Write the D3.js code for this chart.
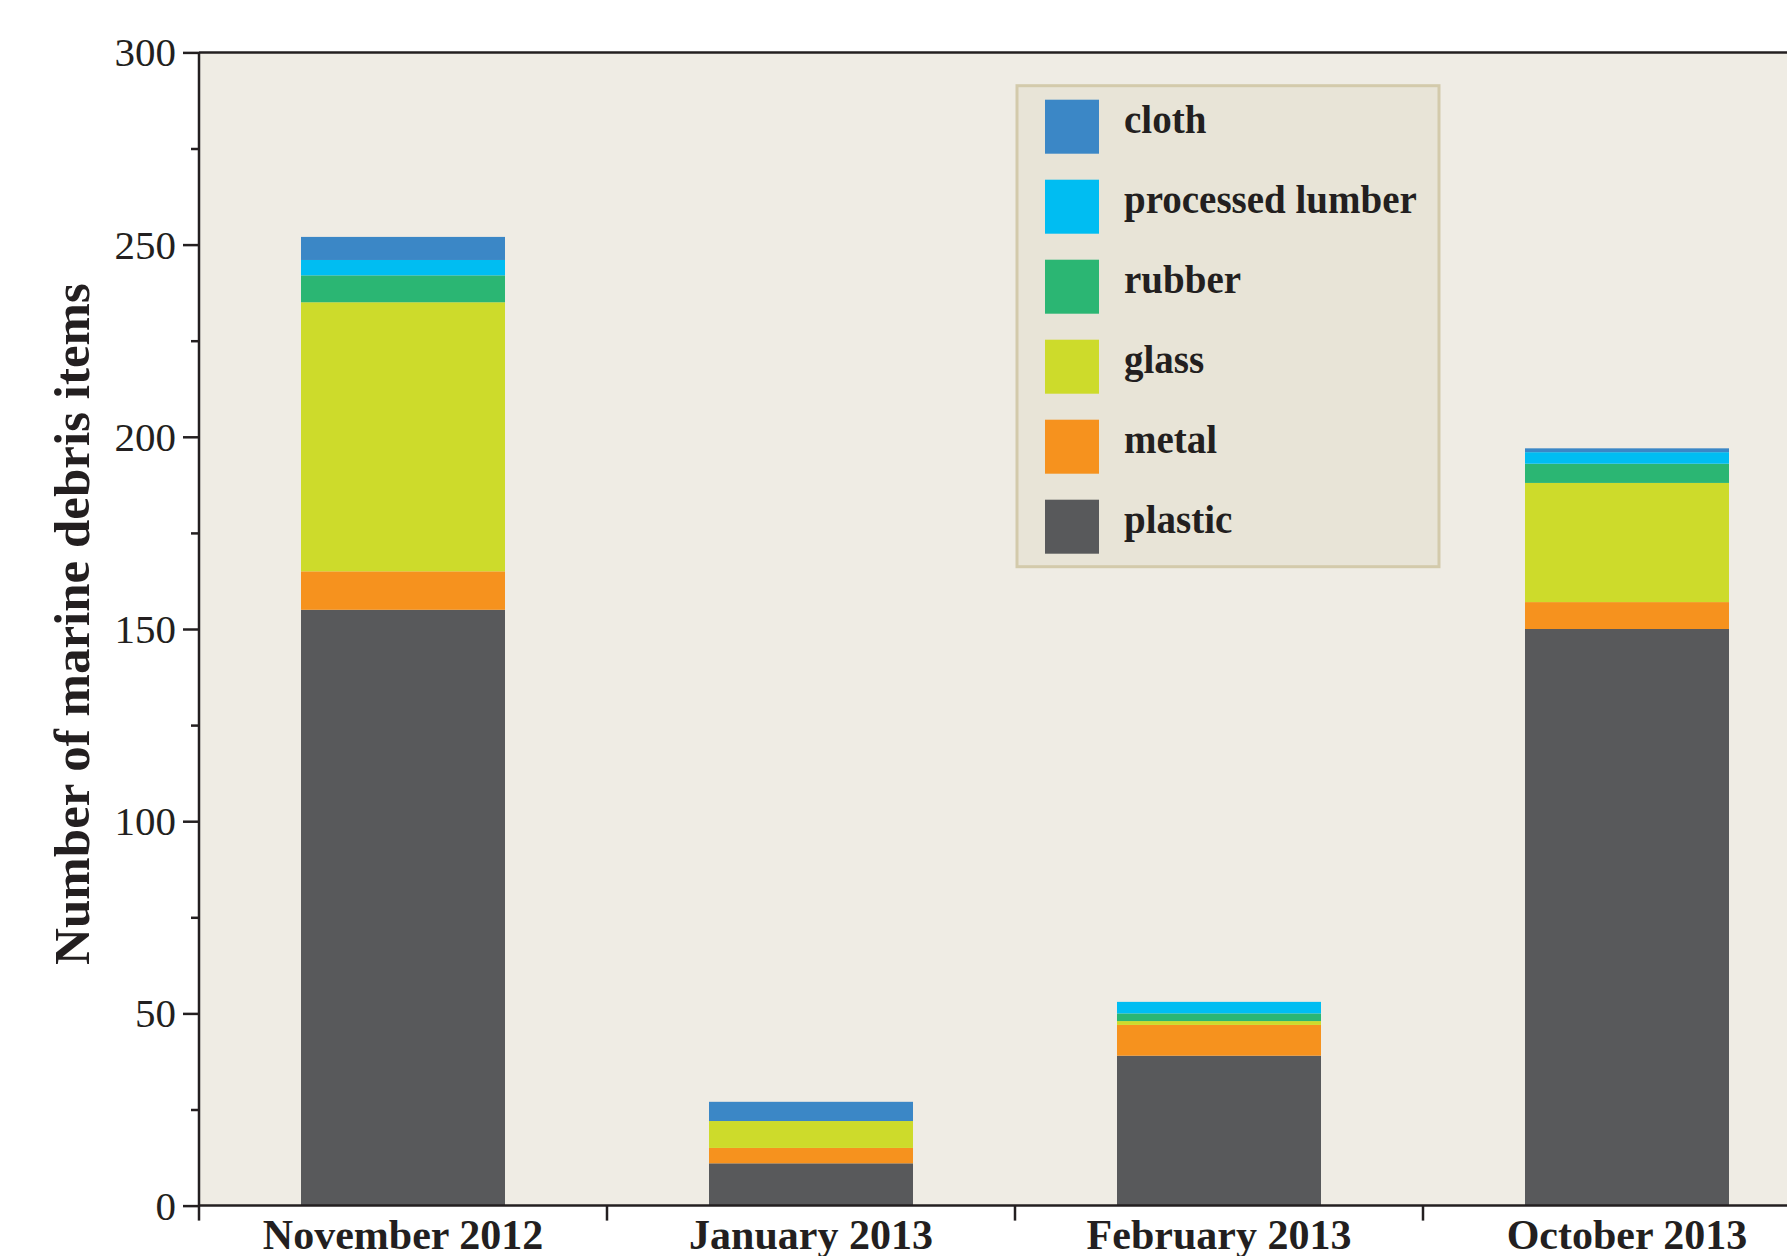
<!DOCTYPE html>
<html>
<head>
<meta charset="utf-8">
<script src="https://cdn.jsdelivr.net/npm/d3@7"></script>
<style>
	html, body { margin: 0; padding: 0; background: #ffffff; }
	svg { display: block; font-family: "Liberation Serif", "Times New Roman", serif; }
	.axis text { fill: #231f20; }
	.axis path, .axis line { stroke: #231f20; }
</style>
</head>
<body>
<div id="chart"></div>
<script>
const MONTHS = ["November 2012", "January 2013", "February 2013", "October 2013"];
const MATERIALS = ["plastic", "metal", "glass", "rubber", "processed lumber", "cloth"];
const PLASTIC = [155, 11, 39, 150];
const METAL = [10, 4, 8, 7];
const GLASS = [70, 7, 1, 31];
const RUBBER = [7, 0, 2, 5];
const LUMBER = [4, 0, 3, 3];
const CLOTH = [6, 5, 0, 1];
const Y_TICKS = [0, 50, 100, 150, 200, 250, 300];
const Y_MINOR_TICKS = [25, 75, 125, 175, 225, 275];

const width = 1787;
const height = 1256;
const margin = { top: 52.4, left: 199, bottom: 50.4 };
const plotWidth = 1632;
const plotHeight = height - margin.top - margin.bottom;
const ink = "#231f20";
const serif = "'Liberation Serif', 'Times New Roman', serif";

let series = [PLASTIC, METAL, GLASS, RUBBER, LUMBER, CLOTH];
let rows = MONTHS.map((month, i) => {
	let row = { month: month };
	MATERIALS.forEach((m, j) => row[m] = series[j][i]);
	return row;
});

let x = d3.scaleBand()
	.domain(MONTHS)
	.range([0, plotWidth])
		.paddingInner(0.5)
		.paddingOuter(0.25);
let y = d3.scaleLinear()
	.domain([0, 300])
	.range([plotHeight, 0]);
let color = d3.scaleOrdinal()
	.domain(MATERIALS)
	.range(["#58595b", "#f6921e", "#cddb2b", "#2bb673", "#00bdf2", "#3b87c6"]);

let svg = d3.select("#chart")
	.append("svg")
		.attr("width", width)
		.attr("height", height)
		.attr("viewBox", `0 0 ${width} ${height}`);

let plot = svg.append("g")
	.attr("transform", `translate(${margin.left}, ${margin.top})`);

plot.append("rect")
	.attr("width", plotWidth)
	.attr("height", plotHeight)
	.attr("fill", "#efece4");

plot.append("line")
	.attr("x2", plotWidth)
	.attr("stroke", ink)
	.attr("stroke-width", 2.5);

// stacked bars
let stack = d3.stack().keys(MATERIALS);
plot.append("g")
	.selectAll("g")
		.data(stack(rows))
		.enter()
		.append("g")
			.attr("fill", d => color(d.key))
		.selectAll("rect")
			.data(d => d)
			.enter()
			.append("rect")
				.attr("x", d => x(d.data.month))
				.attr("y", d => y(d[1]))
				.attr("width", x.bandwidth())
				.attr("height", d => y(d[0]) - y(d[1]));

// y axis
let axisY = plot.append("g")
	.attr("class", "axis y")
	.call(d3.axisLeft(y).tickValues(Y_TICKS).tickSize(16).tickPadding(7))
	.attr("font-family", serif)
	.attr("font-size", 41);
axisY.select("path.domain")
	.attr("stroke-width", 2.5)
	.attr("d", `M0,${plotHeight}V0`);
axisY.selectAll("line").attr("stroke-width", 2.5);
axisY.selectAll("text").attr("dy", "0.33em");

let minorY = plot.append("g")
	.attr("class", "axis y minor")
	.call(d3.axisLeft(y).tickValues(Y_MINOR_TICKS).tickSize(8).tickFormat(""));
minorY.select("path.domain").remove();
minorY.selectAll("line").attr("stroke-width", 2.5);

// x axis
let axisX = plot.append("g")
	.attr("class", "axis x")
	.attr("transform", `translate(0, ${plotHeight})`)
	.call(d3.axisBottom(x).tickSize(0).tickPadding(14))
	.attr("font-family", serif)
	.attr("font-size", 42)
	.attr("font-weight", "bold");
axisX.select("path.domain")
	.attr("stroke-width", 2.5)
	.attr("d", `M0,0H${plotWidth}`);

let gap = (x.step() - x.bandwidth()) / 2;
axisX.selectAll("line.boundary")
	.data(MONTHS)
	.enter()
	.append("line")
		.attr("class", "boundary")
		.attr("x1", d => x(d) - gap)
		.attr("x2", d => x(d) - gap)
		.attr("y2", 15)
		.attr("stroke-width", 2.5);

svg.append("text")
	.attr("transform", `translate(89, ${margin.top + plotHeight / 2 - 5}) rotate(-90)`)
	.attr("text-anchor", "middle")
	.attr("font-size", 51)
	.attr("font-weight", "bold")
	.attr("fill", ink)
	.text("Number of marine debris items");

// legend
let legend = svg.append("g")
	.attr("class", "legend")
	.attr("transform", "translate(1017, 85.7)");
legend.append("rect")
	.attr("width", 422)
	.attr("height", 481)
	.attr("fill", "#e8e4d7")
	.attr("stroke", "#d3caab")
	.attr("stroke-width", 3);

let legendItems = legend.selectAll("g")
	.data(MATERIALS.slice().reverse())
	.enter()
	.append("g")
		.attr("transform", (d, i) => `translate(28, ${14 + i * 80})`);
legendItems.append("rect")
	.attr("width", 54)
	.attr("height", 54)
	.attr("fill", color);
legendItems.append("text")
	.attr("x", 79)
	.attr("y", 33)
	.attr("font-size", 39)
	.attr("font-weight", "bold")
	.attr("fill", ink)
	.text(d => d);
</script>
</body>
</html>
